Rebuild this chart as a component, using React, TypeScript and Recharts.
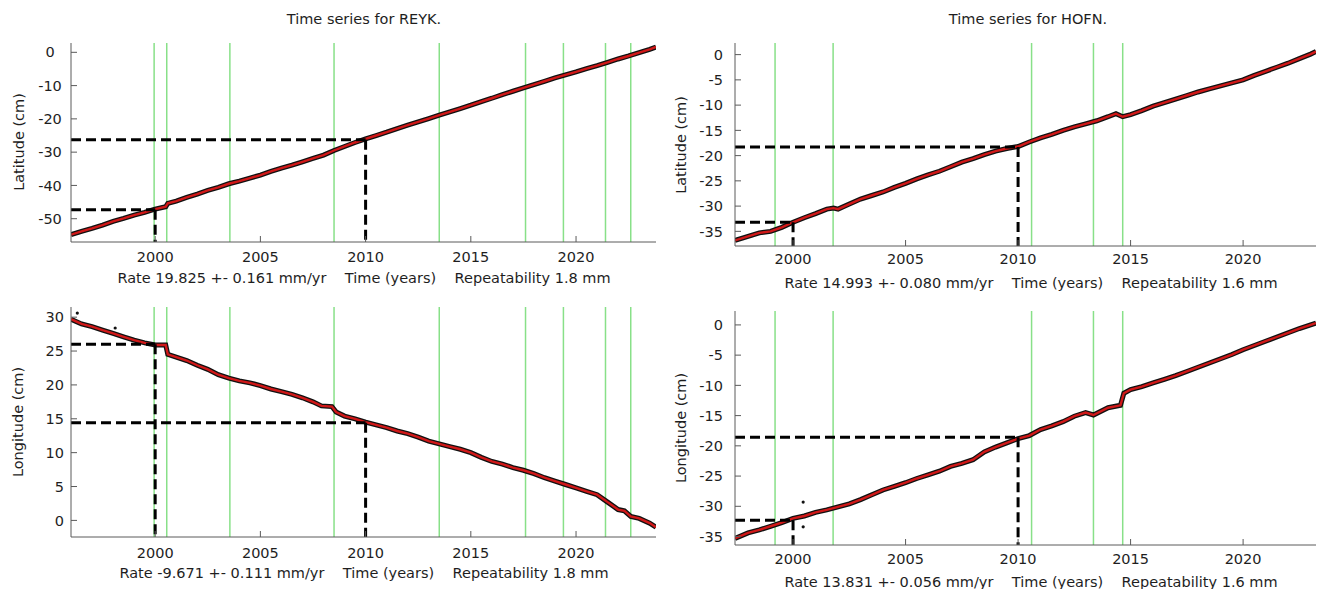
import { ComposedChart, Line, XAxis, YAxis, ReferenceLine } from 'recharts';

// ─── Look ────────────────────────────────────────────────────────────────────

const FONT = '"DejaVu Sans", Verdana, sans-serif';
const C = {
  frame: '#5a5a5a',
  text: '#1e1e1e',
  data: '#111',
  model: '#d01818',
  event: '#88e088',
  guide: '#000',
};

// ─── Data (years, cm) ───────────────────────────────────────────────────────

const REYK_EVENTS = [1999.95, 2000.55, 2003.55, 2008.5, 2013.5, 2017.6, 2019.4, 2021.4, 2022.6];
const HOFN_EVENTS = [1999.2, 2001.78, 2010.6, 2013.35, 2014.65];
const GUIDE_YEARS = [2000, 2010];

const REYK_LAT: [number, number][] = [
  [1996.0, -54.8], [1996.5, -53.8], [1997.0, -52.9], [1997.5, -51.9], [1998.0, -50.8],
  [1998.5, -49.9], [1999.0, -48.9], [1999.5, -48.1], [1999.95, -47.2], [2000.5, -46.4],
  [2000.6, -45.4], [2001.0, -44.7], [2001.5, -43.6], [2002.0, -42.6], [2002.5, -41.5],
  [2003.0, -40.6], [2003.5, -39.5], [2004.0, -38.7], [2004.5, -37.8], [2005.0, -36.9],
  [2005.5, -35.8], [2006.0, -34.8], [2006.5, -33.9], [2007.0, -32.9], [2007.5, -31.9],
  [2008.0, -30.9], [2008.5, -29.5], [2009.0, -28.3], [2009.5, -27.1], [2010.0, -26.0],
  [2010.5, -25.0], [2011.0, -24.0], [2011.5, -22.9], [2012.0, -21.9], [2012.5, -20.9],
  [2013.0, -19.9], [2013.5, -18.9], [2014.0, -17.9], [2014.5, -16.9], [2015.0, -15.9],
  [2015.5, -14.8], [2016.0, -13.8], [2016.5, -12.7], [2017.0, -11.7], [2017.5, -10.7],
  [2018.0, -9.7], [2018.5, -8.7], [2019.0, -7.7], [2019.5, -6.8], [2020.0, -5.9],
  [2020.5, -4.9], [2021.0, -4.0], [2021.5, -3.0], [2022.0, -2.0], [2022.5, -1.1],
  [2023.0, -0.1], [2023.5, 0.9], [2023.8, 1.6],
];
const REYK_LAT_GUIDES = [-47.3, -26.3];

const HOFN_LAT: [number, number][] = [
  [1997.42, -36.8], [1998.0, -36.0], [1998.5, -35.3], [1999.0, -35.0], [1999.5, -34.2],
  [2000.0, -33.2], [2000.5, -32.3], [2001.0, -31.5], [2001.5, -30.6], [2001.8, -30.4],
  [2002.0, -30.6], [2002.5, -29.6], [2003.0, -28.6], [2003.5, -27.9], [2004.0, -27.2],
  [2004.5, -26.3], [2005.0, -25.5], [2005.5, -24.6], [2006.0, -23.8], [2006.5, -23.1],
  [2007.0, -22.2], [2007.5, -21.3], [2008.0, -20.6], [2008.5, -19.8], [2009.0, -19.1],
  [2009.5, -18.6], [2010.0, -18.2], [2010.5, -17.3], [2011.0, -16.5], [2011.5, -15.8],
  [2012.0, -15.0], [2012.5, -14.3], [2013.0, -13.7], [2013.5, -13.1], [2014.0, -12.3],
  [2014.35, -11.7], [2014.65, -12.3], [2015.0, -11.9], [2015.5, -11.1], [2016.0, -10.2],
  [2016.5, -9.5], [2017.0, -8.8], [2017.5, -8.1], [2018.0, -7.4], [2018.5, -6.8],
  [2019.0, -6.2], [2019.5, -5.6], [2020.0, -5.0], [2020.5, -4.1], [2021.0, -3.3],
  [2021.5, -2.5], [2022.0, -1.7], [2022.5, -0.8], [2023.0, 0.1], [2023.24, 0.6],
];
const HOFN_LAT_GUIDES = [-33.2, -18.3];

const REYK_LON: [number, number][] = [
  [1996.0, 29.7], [1996.5, 29.0], [1997.0, 28.6], [1997.5, 28.1], [1998.0, 27.6],
  [1998.5, 27.1], [1999.0, 26.6], [1999.5, 26.2], [2000.0, 25.9], [2000.5, 25.9],
  [2000.6, 24.5], [2001.0, 24.1], [2001.5, 23.6], [2002.0, 22.9], [2002.5, 22.3],
  [2003.0, 21.5], [2003.5, 21.0], [2004.0, 20.6], [2004.5, 20.3], [2005.0, 19.9],
  [2005.5, 19.4], [2006.0, 19.0], [2006.5, 18.6], [2007.0, 18.1], [2007.5, 17.5],
  [2007.9, 16.9], [2008.4, 16.8], [2008.6, 16.0], [2009.0, 15.4], [2009.5, 15.0],
  [2010.0, 14.5], [2010.5, 14.1], [2011.0, 13.7], [2011.5, 13.2], [2012.0, 12.8],
  [2012.5, 12.3], [2013.0, 11.7], [2013.5, 11.3], [2014.0, 10.9], [2014.5, 10.5],
  [2015.0, 10.0], [2015.5, 9.3], [2016.0, 8.7], [2016.5, 8.3], [2017.0, 7.8],
  [2017.5, 7.4], [2018.0, 6.9], [2018.5, 6.3], [2019.0, 5.8], [2019.5, 5.3],
  [2020.0, 4.8], [2020.5, 4.3], [2021.0, 3.8], [2021.5, 2.7], [2022.0, 1.6],
  [2022.3, 1.4], [2022.6, 0.6], [2023.0, 0.3], [2023.5, -0.4], [2023.8, -1.0],
];
const REYK_LON_GUIDES = [26.0, 14.4];
const REYK_LON_OUTLIERS: [number, number][] = [[1996.3, 30.6], [1998.1, 28.4]];

const HOFN_LON: [number, number][] = [
  [1997.42, -35.3], [1998.0, -34.4], [1998.5, -33.9], [1999.0, -33.3], [1999.5, -32.7],
  [2000.0, -32.0], [2000.5, -31.6], [2001.0, -31.0], [2001.5, -30.6], [2002.0, -30.1],
  [2002.5, -29.6], [2003.0, -28.9], [2003.5, -28.1], [2004.0, -27.3], [2004.5, -26.7],
  [2005.0, -26.1], [2005.5, -25.4], [2006.0, -24.8], [2006.5, -24.2], [2007.0, -23.4],
  [2007.5, -22.9], [2008.0, -22.3], [2008.5, -21.0], [2009.0, -20.2], [2009.5, -19.5],
  [2010.0, -18.8], [2010.5, -18.3], [2011.0, -17.3], [2011.5, -16.7], [2012.0, -16.0],
  [2012.5, -15.1], [2013.0, -14.5], [2013.35, -14.9], [2014.0, -13.7], [2014.55, -13.3],
  [2014.7, -11.3], [2015.0, -10.7], [2015.5, -10.2], [2016.0, -9.6], [2016.5, -9.0],
  [2017.0, -8.4], [2017.5, -7.7], [2018.0, -7.0], [2018.5, -6.3], [2019.0, -5.6],
  [2019.5, -4.9], [2020.0, -4.1], [2020.5, -3.4], [2021.0, -2.7], [2021.5, -2.0],
  [2022.0, -1.3], [2022.5, -0.6], [2023.0, 0.0], [2023.24, 0.3],
];
const HOFN_LON_GUIDES = [-32.3, -18.6];
const HOFN_LON_OUTLIERS: [number, number][] = [[2000.45, -29.3], [2000.45, -33.4]];

const X_TICKS = [2000, 2005, 2010, 2015, 2020];

// ─── Panel ───────────────────────────────────────────────────────────────────

type Box = { x0: number; y0: number; x1: number; y1: number };

interface PanelProps {
  box: Box;
  xDomain: [number, number];
  yDomain: [number, number];
  yTicks: number[];
  series: [number, number][];
  outliers?: [number, number][];
  events: number[];
  guides: number[];
  yTickAnchor: 'middle' | 'end';
  yTickMargin: number;
  xTickMargin: number;
}

const AXIS_W = 71;
const AXIS_H = 38;
const M = { top: 13, right: 4, bottom: 0, left: 0 };

function Panel(p: PanelProps) {
  const rows = p.series.map(([t, v]) => ({ t, v }));
  const dots = (p.outliers ?? []).map(([t, v]) => ({ t, v }));
  const w = p.box.x1 - p.box.x0 + AXIS_W + M.right;
  const h = p.box.y1 - p.box.y0 + M.top + AXIS_H;
  const tickFont = { fontSize: 14.5, fill: C.text, fontFamily: FONT };

  return (
    <div style={{ position: 'absolute', left: p.box.x0 - AXIS_W, top: p.box.y0 - M.top }}>
      <ComposedChart width={w} height={h} data={rows} margin={M}>
        <XAxis
          dataKey="t" type="number" domain={p.xDomain} allowDataOverflow ticks={X_TICKS}
          height={AXIS_H} tickSize={-6} tickMargin={p.xTickMargin}
          stroke={C.frame} tick={tickFont}
        />
        <XAxis
          xAxisId="top" orientation="top" dataKey="t" type="number" domain={p.xDomain}
          allowDataOverflow ticks={X_TICKS} height={0} tickSize={-6} tick={false} stroke={C.frame}
        />
        <YAxis
          type="number" domain={p.yDomain} allowDataOverflow ticks={p.yTicks} width={AXIS_W}
          tickSize={-6} tickMargin={p.yTickMargin} stroke={C.frame}
          tick={{ ...tickFont, textAnchor: p.yTickAnchor }}
        />
        <YAxis
          yAxisId="r" orientation="right" type="number" domain={p.yDomain} allowDataOverflow
          ticks={p.yTicks} width={0} tickSize={-6} tick={false} stroke={C.frame}
        />

        {/* earthquake / equipment events */}
        {p.events.map(e => (
          <ReferenceLine key={e} x={e} stroke={C.event} strokeWidth={1.5} ifOverflow="hidden" />
        ))}

        {/* observations under the fitted model */}
        <Line dataKey="v" type="linear" stroke={C.data} strokeWidth={5} dot={false} isAnimationActive={false} />
        <Line dataKey="v" type="linear" stroke={C.model} strokeWidth={2.4} dot={false} isAnimationActive={false} />
        {dots.length > 0 && (
          <Line
            data={dots} dataKey="v" stroke="none" isAnimationActive={false}
            dot={{ r: 1.6, fill: C.data, stroke: 'none' }}
          />
        )}

        {/* read-off guides at 2000 and 2010 */}
        {GUIDE_YEARS.map((yr, i) => (
          <ReferenceLine
            key={`h${yr}`} ifOverflow="visible" stroke={C.guide} strokeWidth={3} strokeDasharray="10 5"
            segment={[{ x: p.xDomain[0], y: p.guides[i] }, { x: yr, y: p.guides[i] }]}
          />
        ))}
        {GUIDE_YEARS.map((yr, i) => (
          <ReferenceLine
            key={`v${yr}`} ifOverflow="visible" stroke={C.guide} strokeWidth={3} strokeDasharray="10 5"
            segment={[{ x: yr, y: p.guides[i] }, { x: yr, y: p.yDomain[0] }]}
          />
        ))}
      </ComposedChart>
    </div>
  );
}

// ─── Text placed over the charts ─────────────────────────────────────────────

function Caption({ x, y, text, vertical }: { x: number; y: number; text: string; vertical?: boolean }) {
  return (
    <div
      style={{
        position: 'absolute', left: x, top: y, whiteSpace: 'pre', lineHeight: 1,
        fontFamily: FONT, fontSize: 14.5, color: C.text,
        transform: `translate(-50%, -50%)${vertical ? ' rotate(-90deg)' : ''}`,
      }}
    >
      {text}
    </div>
  );
}

const GAP = '\u00a0\u00a0\u00a0\u00a0';

// ─── Main component ──────────────────────────────────────────────────────────

export default function App() {
  return (
    <div style={{ position: 'absolute', left: 0, top: 0, width: 1317, height: 589, overflow: 'hidden', background: '#fff' }}>
      <Caption x={364} y={19} text="Time series for REYK." />
      <Caption x={1028} y={19} text="Time series for HOFN." />

      <Panel
        box={{ x0: 71, y0: 43, x1: 656, y1: 242 }} xDomain={[1996.0, 2023.8]} yDomain={[-57, 2.8]}
        yTicks={[-50, -40, -30, -20, -10, 0]} series={REYK_LAT} events={REYK_EVENTS}
        guides={REYK_LAT_GUIDES} yTickAnchor="middle" yTickMargin={27} xTickMargin={16}
      />
      <Panel
        box={{ x0: 735, y0: 43, x1: 1316, y1: 246 }} xDomain={[1997.42, 2023.24]} yDomain={[-37.9, 2.3]}
        yTicks={[-35, -30, -25, -20, -15, -10, -5, 0]} series={HOFN_LAT} events={HOFN_EVENTS}
        guides={HOFN_LAT_GUIDES} yTickAnchor="end" yTickMargin={18} xTickMargin={14}
      />
      <Panel
        box={{ x0: 71, y0: 307, x1: 656, y1: 537 }} xDomain={[1996.0, 2023.8]} yDomain={[-2.45, 31.5]}
        yTicks={[0, 5, 10, 15, 20, 25, 30]} series={REYK_LON} outliers={REYK_LON_OUTLIERS}
        events={REYK_EVENTS} guides={REYK_LON_GUIDES} yTickAnchor="end" yTickMargin={13} xTickMargin={17}
      />
      <Panel
        box={{ x0: 735, y0: 311, x1: 1316, y1: 545 }} xDomain={[1997.42, 2023.24]} yDomain={[-36.4, 2.3]}
        yTicks={[-35, -30, -25, -20, -15, -10, -5, 0]} series={HOFN_LON} outliers={HOFN_LON_OUTLIERS}
        events={HOFN_EVENTS} guides={HOFN_LON_GUIDES} yTickAnchor="end" yTickMargin={18} xTickMargin={15}
      />

      <Caption x={19} y={142} text="Latitude (cm)" vertical />
      <Caption x={681} y={145} text="Latitude (cm)" vertical />
      <Caption x={18} y={422} text="Longitude (cm)" vertical />
      <Caption x={681} y={428} text="Longitude (cm)" vertical />

      <Caption x={364} y={278} text={`Rate 19.825 +- 0.161 mm/yr${GAP}Time (years)${GAP}Repeatability 1.8 mm`} />
      <Caption x={1031} y={283} text={`Rate 14.993 +- 0.080 mm/yr${GAP}Time (years)${GAP}Repeatability 1.6 mm`} />
      <Caption x={364} y={573} text={`Rate -9.671 +- 0.111 mm/yr${GAP}Time (years)${GAP}Repeatability 1.8 mm`} />
      <Caption x={1031} y={582} text={`Rate 13.831 +- 0.056 mm/yr${GAP}Time (years)${GAP}Repeatability 1.6 mm`} />
    </div>
  );
}
